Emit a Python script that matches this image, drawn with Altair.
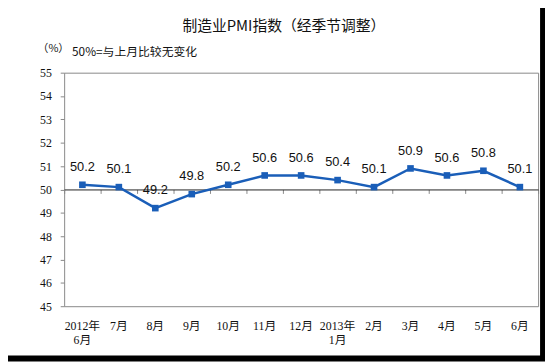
import altair as alt
import pandas as pd

months = ["2012年|6月", "7月", "8月", "9月", "10月", "11月", "12月",
          "2013年|1月", "2月", "3月", "4月", "5月", "6月"]
pmi = [50.2, 50.1, 49.2, 49.8, 50.2, 50.6, 50.6, 50.4, 50.1, 50.9, 50.6, 50.8, 50.1]
y_ticks = list(range(45, 56))
title_text = "制造业PMI指数（经季节调整）"
unit_text = "（%）"
note_text = "50%=与上月比较无变化"

BLUE = "#1a5eb8"
W, H = 481, 237
SERIF = "'Liberation Serif', 'Noto Sans CJK SC'"
CJK = "'Noto Sans CJK SC'"

df = pd.DataFrame({"month": months, "pmi": pmi})
one = pd.DataFrame({"a": [0]})

xscale = alt.Scale(type="band", domain=months, paddingInner=0, paddingOuter=0)
yscale = alt.Scale(domain=[45, 55], nice=False, zero=False)

axis_labels = alt.Axis(orient="bottom", domain=False, ticks=False, labelAngle=0,
                       labelExpr="split(datum.label, '|')", labelFont=SERIF,
                       labelFontSize=12, labelColor="#111", labelPadding=15,
                       labelLineHeight=14, title=None, labelBaseline="top")
axis_mid = alt.Axis(orient="bottom", offset=-H / 2, labels=False, domain=True,
                    domainColor="#222", domainWidth=1, ticks=True, tickColor="#888",
                    tickSize=4, tickBand="extent", title=None)
yaxis = alt.Axis(values=y_ticks, domain=False, ticks=True, tickColor="#888", tickSize=4,
                 grid=False, labelFont=SERIF, labelFontSize=12, labelColor="#111",
                 labelPadding=9, title=None, format="d")

base = alt.Chart(df)
Y = alt.Y("pmi:Q", scale=yscale, axis=yaxis)

line = base.mark_line(color=BLUE, strokeWidth=2.5).encode(
    x=alt.X("month:N", scale=xscale, axis=axis_labels),
    y=Y,
)
pts = base.mark_square(color=BLUE, size=45, opacity=1).encode(
    x=alt.X("month:N", scale=xscale, axis=axis_mid),
    y=Y,
)
labels = base.mark_text(dy=-18, fontSize=13, font="Liberation Sans", color="#111").encode(
    x=alt.X("month:N", scale=xscale, axis=None),
    y=Y,
    text=alt.Text("pmi:Q", format=".1f"),
)

title = alt.Chart(one).mark_text(text=title_text, font=CJK, fontSize=15, color="#111",
                                 align="center", baseline="middle").encode(
    x=alt.value(223), y=alt.value(-47))
unit = alt.Chart(one).mark_text(text=unit_text, font=CJK, fontSize=11, color="#111",
                                align="left", baseline="middle").encode(
    x=alt.value(-27), y=alt.value(-24))
note = alt.Chart(one).mark_text(text=note_text, font=CJK, fontSize=12, color="#111",
                                align="left", baseline="middle").encode(
    x=alt.value(8), y=alt.value(-21))
frame = alt.Chart(one).mark_rect(fill=None, stroke="black", strokeWidth=6).encode(
    x=alt.value(-70), x2=alt.value(486), y=alt.value(-76), y2=alt.value(290))

chart = alt.layer(line, pts, labels, title, unit, note, frame).resolve_axis(
    x="independent"
).properties(
    width=W, height=H,
    autosize=alt.AutoSizeParams(type="none"),
    padding={"left": 57, "top": 63, "right": 7, "bottom": 56},
    background="white",
).configure_view(stroke="#888", strokeWidth=1)

chart.save("out.html", embed_options={"renderer": "svg", "actions": False})
